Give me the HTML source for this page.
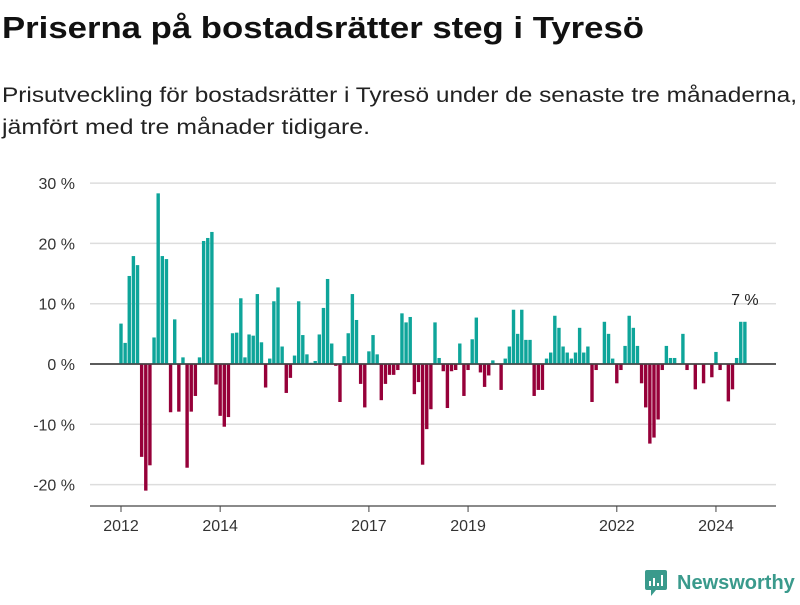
<!DOCTYPE html>
<html><head><meta charset="utf-8"><style>
body{margin:0;width:800px;height:600px;background:#fff;font-family:"Liberation Sans","DejaVu Sans",sans-serif;overflow:hidden}
</style></head><body>
<svg id="c" width="800" height="600" xmlns="http://www.w3.org/2000/svg">
<text x="2" y="38" font-size="31" font-weight="bold" fill="#111" textLength="642" lengthAdjust="spacingAndGlyphs">Priserna på bostadsrätter steg i Tyresö</text>
<text x="2" y="102" font-size="21" fill="#222" textLength="795" lengthAdjust="spacingAndGlyphs">Prisutveckling för bostadsrätter i Tyresö under de senaste tre månaderna,</text>
<text x="2" y="134" font-size="21" fill="#222" textLength="368" lengthAdjust="spacingAndGlyphs">jämfört med tre månader tidigare.</text>
<g id="grid"></g><g id="bars"></g><g id="axes"></g>
<g>
<rect x="645" y="570" width="22" height="20" rx="2" fill="#3a9a8c"/>
<polygon points="651,590 656,590 651,596" fill="#3a9a8c"/>
<rect x="649" y="581" width="2" height="5" fill="#fff"/><rect x="653" y="578" width="2" height="8" fill="#fff"/><rect x="657" y="583" width="2" height="3" fill="#fff"/><rect x="661" y="575" width="2" height="11" fill="#fff"/>
<text x="677" y="589" font-size="20" font-weight="bold" fill="#3a9a8c">Newsworthy</text>
</g>
</svg>
<script>
const values=[6.7,3.5,14.6,17.9,16.4,-15.4,-21,-16.8,4.4,28.3,17.9,17.4,-8,7.4,-7.9,1.1,-17.2,-7.9,-5.3,1.1,20.4,20.9,21.9,-3.4,-8.6,-10.4,-8.8,5.1,5.2,10.9,1.1,4.9,4.7,11.6,3.6,-3.9,0.9,10.4,12.7,
2.9,-4.8,-2.3,1.4,10.4,4.8,1.6,0.2,0.5,4.9,9.3,14.1,3.4,-0.3,-6.3,1.3,5.1,11.6,7.3,-3.3,-7.2,2.1,4.8,1.6,-6.0,-3.3,-1.8,-1.8,-1.0,8.4,6.9,7.8,-5.0,-3.0,-16.7,-10.8,-7.5,6.9,1.0,
-1.2,-7.3,-1.2,-1.0,3.4,-5.3,-1.0,4.1,7.7,-1.4,-3.8,-1.9,0.6,0,-4.3,0.9,2.9,9.0,5.0,9.0,4.0,4.0,-5.3,-4.3,-4.3,0.9,1.9,8.0,6.0,2.9,1.9,0.9,1.9,6.0,1.9,2.9,-6.3,-1.0,
0,7.0,5.0,0.9,-3.2,-1.0,3.0,8.0,6.0,3.0,-3.2,-7.2,-13.2,-12.2,-9.2,-1.0,3.0,1.0,1.0,0,5.0,-1.0,0,-4.2,0,-3.2,0,-2.2,2.0,-1.0,0,-6.2,-4.2,1.0,7.0,7.0];
const startYear=2012;
const yTicks=[30,20,10,0,-10,-20];
const xTicks=[2012,2014,2017,2019,2022,2024];
const NS="http://www.w3.org/2000/svg";
const y=v=>364-v*6.03;
const x=t=>121+(t-2012)*49.58;
function mk(tag,attrs,parent,txt){const e=document.createElementNS(NS,tag);for(const k in attrs)e.setAttribute(k,attrs[k]);if(txt!=null)e.textContent=txt;document.getElementById(parent).appendChild(e);return e;}
yTicks.forEach(v=>{
 const l=mk('line',{x1:90,x2:776,y1:y(v),y2:y(v),stroke:v===0?'#444':'#ddd','stroke-width':1.5},'grid');
 
 
 const t=mk('text',{x:75,y:y(v)+6,'text-anchor':'end','font-size':16,fill:'#333'},'axes',v+' %');
 
 
});
values.forEach((v,i)=>{
 const cx=x(startYear+i/12);
 const r=mk('rect',{x:cx-1.7,width:3.4,y:Math.min(y(v),y(0)),height:Math.abs(y(v)-y(0)),fill:v>=0?'#0ea59a':'#960039'},'bars');
 
 
});
const zl=mk('line',{x1:90,x2:776,y1:y(0),y2:y(0),stroke:'#444','stroke-width':1.5},'axes');


const ax=mk('line',{x1:90,x2:776,y1:506,y2:506,stroke:'#444','stroke-width':1.2},'axes');


xTicks.forEach(t=>{
 const k=mk('line',{x1:x(t),x2:x(t),y1:506,y2:512,stroke:'#444'},'axes');
 
 
 const l=mk('text',{x:x(t),y:531,'text-anchor':'middle','font-size':16,fill:'#333'},'axes',String(t));
 
 
});
const last=values[values.length-1];
const lab=mk('text',{x:x(startYear+(values.length-1)/12),y:y(last)-17,'text-anchor':'middle','font-size':16,fill:'#222'},'axes',Math.round(last)+' %');


</script>
</body></html>
